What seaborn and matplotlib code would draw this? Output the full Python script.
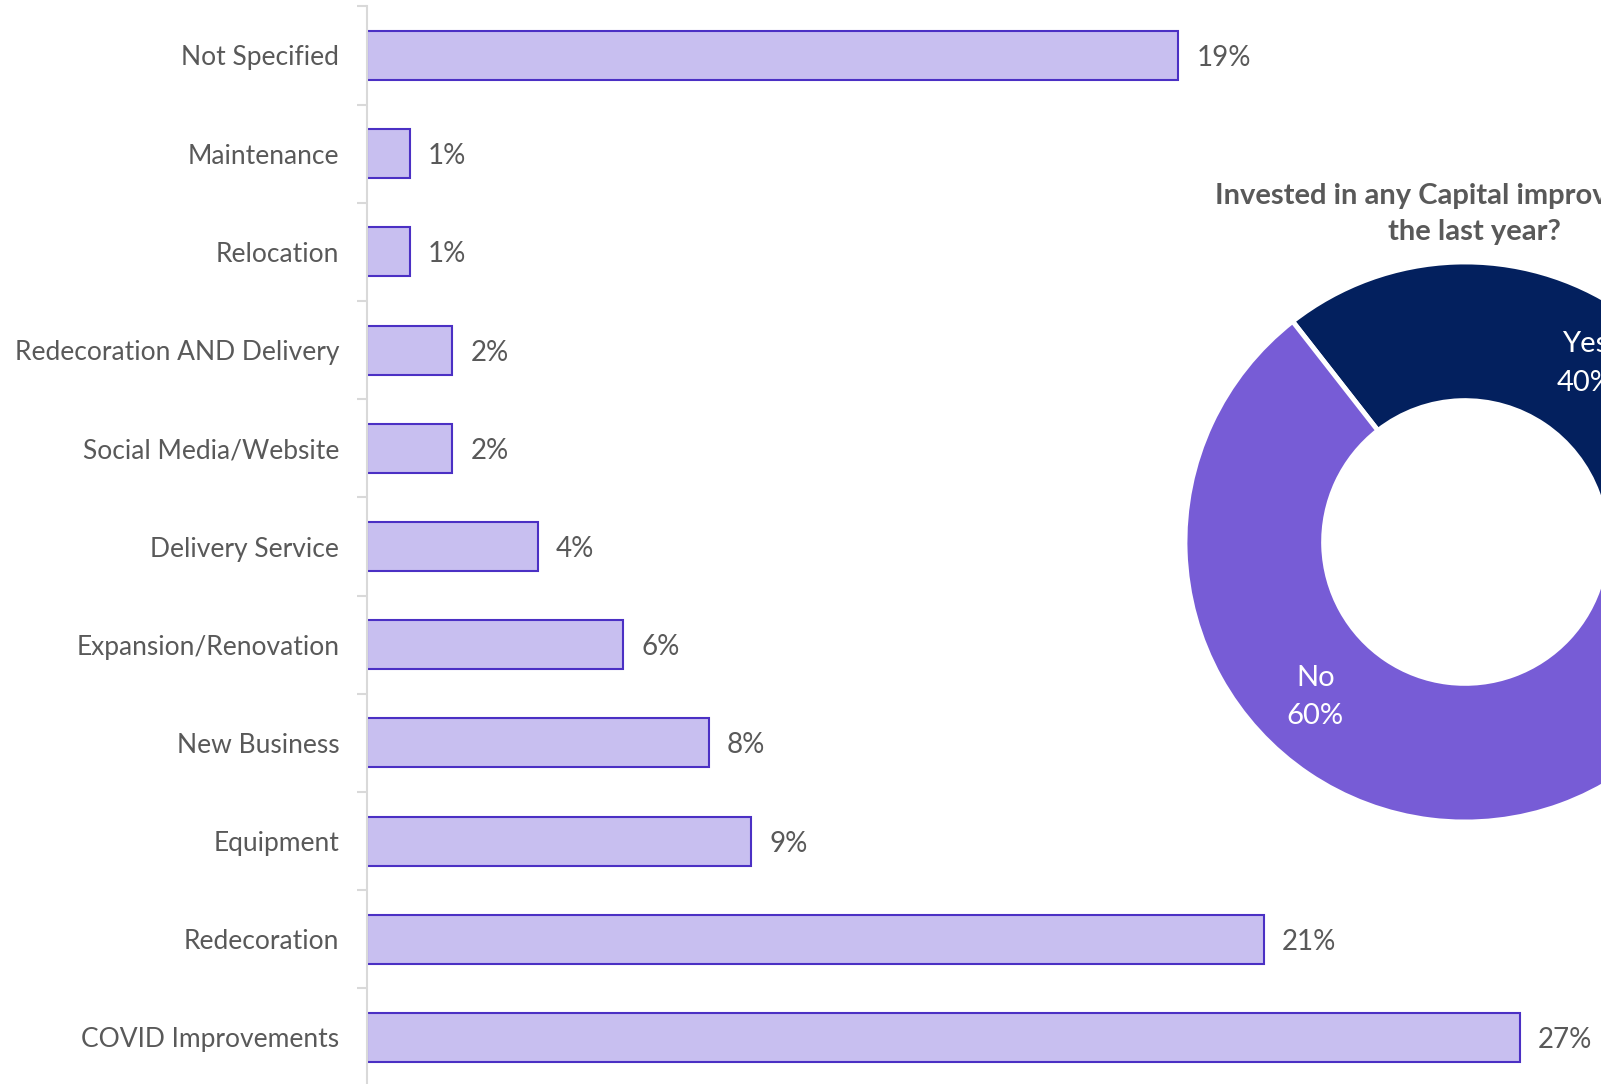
import matplotlib
matplotlib.use("Agg")
import matplotlib.pyplot as plt
import seaborn as sns
import pandas as pd
import numpy as np

# Types of capital improvement (share of respondents, %)
categories = ["Not Specified", "Maintenance", "Relocation", "Redecoration AND Delivery",
              "Social Media/Website", "Delivery Service", "Expansion/Renovation",
              "New Business", "Equipment", "Redecoration", "COVID Improvements"]
shares = [19, 1, 1, 2, 2, 4, 6, 8, 9, 21, 27]

# Invested in capital improvements at all
donut_labels = ["Yes", "No"]
donut_shares = [40, 60]
donut_title = "Invested in any Capital improvements in\nthe last year?"

sns.set_theme(style="white")
plt.rcParams["font.family"] = ["Lato", "DejaVu Sans"]

TEXT = "#595959"
GRID = "#d9d9d9"
BAR_FILL = "#c8bff0"
BAR_EDGE = "#4b30c4"
NAVY = "#03205e"
PURPLE = "#775cd6"

W, H = 1601, 1084
fig = plt.figure(figsize=(W / 100, H / 100), dpi=100)

# ---- horizontal bar chart ----
ax_left, top_px, bot_px = 367, 6.4, 1086.6
ax = fig.add_axes([ax_left / W, 1 - bot_px / H, 1 - ax_left / W, (bot_px - top_px) / H])
df = pd.DataFrame({"category": categories, "share": shares})
sns.barplot(data=df, x="share", y="category", orient="h", width=0.5,
            color=BAR_FILL, edgecolor=BAR_EDGE, linewidth=1.5, saturation=1, ax=ax)

ax.set_xlim(0, (W - ax_left) / 42.7)
ax.set_ylim(len(categories) - 0.5, -0.5)
ax.set_xlabel("")
ax.set_ylabel("")
ax.xaxis.set_visible(False)
for side in ["top", "right", "bottom"]:
    ax.spines[side].set_visible(False)
ax.spines["left"].set_color(GRID)
ax.spines["left"].set_linewidth(1.5)
ax.set_facecolor("none")

ax.tick_params(axis="y", which="major", length=0, pad=20, labelsize=19, labelcolor=TEXT)
ax.set_yticks(np.arange(len(categories) + 1) - 0.5, minor=True)
ax.tick_params(axis="y", which="minor", left=True, length=7, width=1.5, color=GRID)

for container in ax.containers:
    texts = ax.bar_label(container, labels=[f"{v}%" for v in shares], padding=13,
                         fontsize=20, color=TEXT)
    for t in texts:
        t.set_verticalalignment("center_baseline")

# ---- donut chart ----
cx, cy, R = 1465, 542, 280
ax2 = fig.add_axes([(cx - R) / W, (H - cy - R) / H, 2 * R / W, 2 * R / H])
wedges, _ = ax2.pie(donut_shares, startangle=128, counterclock=False,
                    colors=[NAVY, PURPLE], radius=1,
                    wedgeprops=dict(width=0.495, edgecolor="white", linewidth=3.5))
ax2.set_xlim(-1, 1)
ax2.set_ylim(-1, 1)
ax2.set_aspect("auto")
ax2.axis("off")

# label placement along each ring segment (degrees relative to its middle)
label_shift_deg = [0, -10]
for w, lab, v, shift in zip(wedges, donut_labels, donut_shares, label_shift_deg):
    theta = np.deg2rad((w.theta1 + w.theta2) / 2 + shift)
    r = 0.77
    ax2.text(r * np.cos(theta), r * np.sin(theta), f"{lab}\n{v}%",
             ha="center", va="center", color="white", fontsize=21, linespacing=1.6)

fig.text(1474 / W, 1 - 214 / H, donut_title, ha="center", va="center",
         fontsize=21, fontweight="bold", color=TEXT, linespacing=1.45)

fig.savefig("out.png", dpi=100, facecolor="white")
